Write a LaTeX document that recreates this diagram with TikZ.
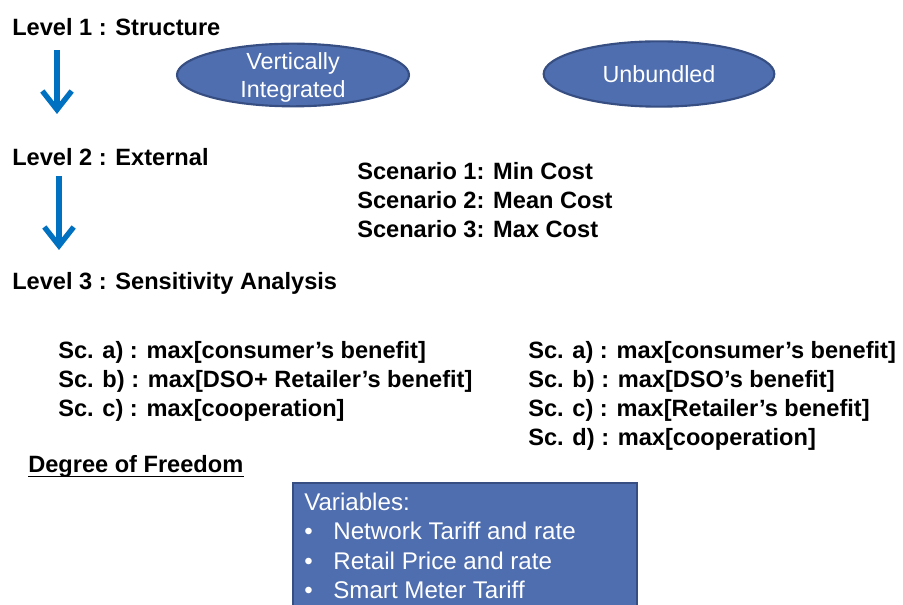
\documentclass[tikz,border=0pt]{standalone}
\usepackage{fontspec}
\setmainfont{Liberation Sans}
\usetikzlibrary{arrows.meta,shapes.geometric}

\definecolor{ovalblue}{RGB}{79,110,176}
\definecolor{ovalrim}{RGB}{54,78,130}
\definecolor{arrowblue}{RGB}{0,112,192}

\tikzset{
	head/.style={anchor=base west, inner sep=0pt, font=\bfseries\fontsize{17.7}{21}\selectfont},
	oval/.style={ellipse, draw=ovalrim, line width=1.6pt, fill=ovalblue, inner sep=0pt},
	ovaltext/.style={text=white, align=center, font=\fontsize{17.5}{21}\selectfont},
	down/.style={arrowblue, line width=4pt, -{Straight Barb[length=14pt,width=22pt,line width=4pt]}},
	varbox/.style={draw=ovalrim, line width=1.6pt, fill=ovalblue, anchor=north west, inner sep=0pt},
	vartext/.style={anchor=base west, inner sep=0pt, text=white, font=\fontsize{18.1}{21}\selectfont}
}

\begin{document}
\begin{tikzpicture}[x=0.75pt,y=-0.75pt]
			\useasboundingbox (0,0) rectangle (903,605);
			% levels
			\node[head] (lvl1) at (12,36) {Level 1 : Structure};
			\node[head] (lvl2) at (12,166) {Level 2 : External};
			\node[head] (lvl3) at (12,290) {Level 3 : Sensitivity Analysis};
			\coordinate (a1) at (57,50);
			\coordinate (b1) at (57,114);
			\coordinate (a2) at (59,176);
			\coordinate (b2) at (59,250);
			\draw[down] (a1) -- (b1);
			\draw[down] (a2) -- (b2);
			% structure
			\node[oval, minimum width=174pt, minimum height=47pt] (vi) at (293,75) {};
			\node[ovaltext, yshift=-2pt] (vitext) at (vi) {Vertically\\Integrated};
			\node[oval, minimum width=173pt, minimum height=49pt] (ub) at (659,74) {};
			\node[ovaltext] (ubtext) at (ub) {Unbundled};
			% external scenarios
			\node[head] (sc1) at (357,180) {Scenario 1: Min Cost};
			\node[head] (sc2) at (357,209) {Scenario 2: Mean Cost};
			\node[head] (sc3) at (357,238) {Scenario 3: Max Cost};
			% sensitivity, left
			\node[head] (la) at (58,359) {Sc. a) : max[consumer’s benefit]};
			\node[head] (lb) at (58,388) {Sc. b) : max[DSO+ Retailer’s benefit]};
			\node[head] (lc) at (58,417) {Sc. c) : max[cooperation]};
			% sensitivity, right
			\node[head] (ra) at (528,359) {Sc. a) : max[consumer’s benefit]};
			\node[head] (rb) at (528,388) {Sc. b) : max[DSO’s benefit]};
			\node[head] (rc) at (528,417) {Sc. c) : max[Retailer’s benefit]};
			\node[head] (rd) at (528,446) {Sc. d) : max[cooperation]};
			% degree of freedom
			\node[head] (dof) at (28,473) {Degree of Freedom};
			\draw[line width=1.4pt] ([yshift=-2.6pt]dof.base west) -- ([yshift=-2.6pt]dof.base east);
			\node[varbox, minimum width=258pt, minimum height=130pt] (vars) at (292,482) {};
			\node[vartext] (v0) at (304,511) {Variables:};
			\node[vartext] (v1) at (304,540) {•\hspace{15.5pt}Network Tariff and rate};
			\node[vartext] (v2) at (304,569) {•\hspace{15.5pt}Retail Price and rate};
			\node[vartext] (v3) at (304,598) {•\hspace{15.5pt}Smart Meter Tariff};
		\end{tikzpicture}
\end{document}
